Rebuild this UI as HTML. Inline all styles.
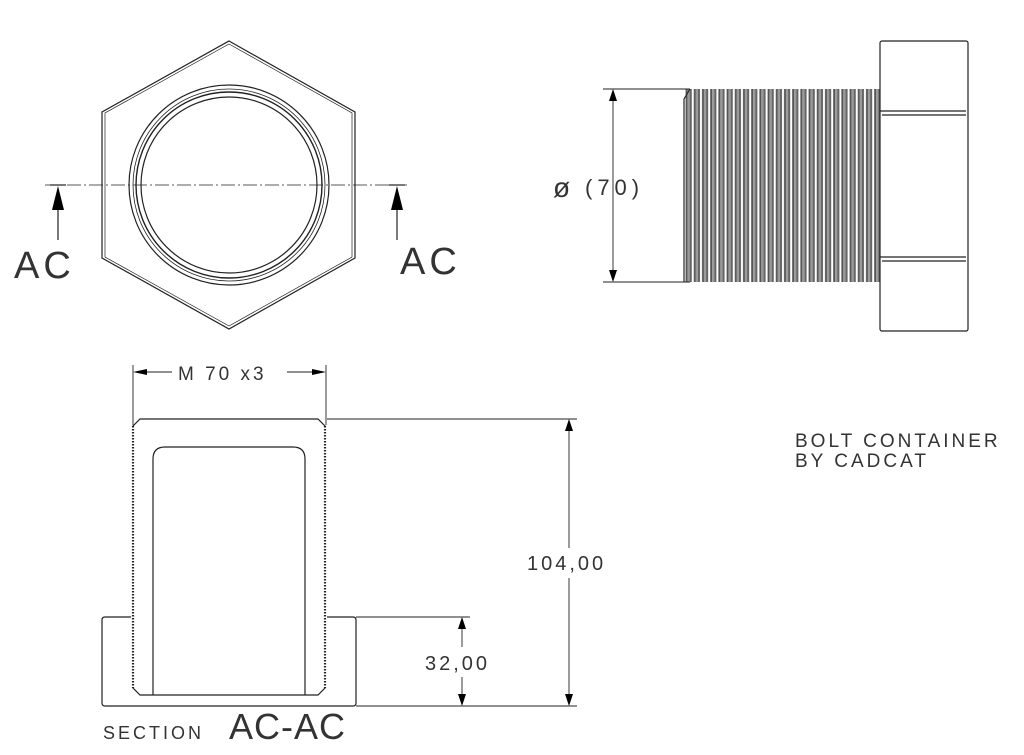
<!DOCTYPE html>
<html><head><meta charset="utf-8"><style>
html,body{margin:0;padding:0;background:#fff}
svg{display:block}
text{font-family:"Liberation Sans",sans-serif;fill:#333}
</style></head><body>
<svg width="1024" height="755" viewBox="0 0 1024 755" xmlns="http://www.w3.org/2000/svg">
<defs>
<pattern id="thr" x="685" y="0" width="8.2" height="10" patternUnits="userSpaceOnUse">
<rect width="8.2" height="10" fill="#fff"/>
<rect x="0.6" width="2" height="10" fill="#555"/>
<rect x="2.6" width="2" height="10" fill="#999"/>
<rect x="4.6" width="2.2" height="10" fill="#666"/>
</pattern>
</defs>
<g fill="none" stroke="#222" stroke-width="1.2">
<polygon points="229,41 355,112 355,258 229,329 102,258 102,112"/>
<polygon points="229,44 352,113 352,257 229,326 105,257 105,113" stroke-width="0.7"/>
<circle cx="229" cy="185" r="100"/>
<circle cx="229" cy="185" r="96" stroke-width="0.8"/>
<circle cx="229" cy="185" r="93" stroke-width="1.4"/>
<circle cx="229" cy="185" r="88"/>
<line x1="45" y1="185" x2="407" y2="185" stroke-dasharray="14,3,2,3" stroke-width="0.8"/>
<line x1="58" y1="205" x2="58" y2="240"/>
<line x1="397" y1="205" x2="397" y2="240"/>
<line x1="50" y1="185" x2="66" y2="185"/>
<line x1="389" y1="185" x2="405" y2="185"/>
</g>
<polygon points="58,186 52,210 64,210" fill="#000"/>
<polygon points="397,186 391,210 403,210" fill="#000"/>
<text x="14" y="278" font-size="38" fill="#555" letter-spacing="4">AC</text>
<text x="400" y="274" font-size="38" fill="#555" letter-spacing="4">AC</text>

<rect x="684" y="89" width="196" height="193" fill="url(#thr)"/>
<g fill="none" stroke="#222" stroke-width="1.2">
<path d="M690,89 L684,99 L684,282"/>
<rect x="880" y="41" width="88" height="290" rx="2"/>
<line x1="880" y1="111" x2="966" y2="111"/>
<line x1="882" y1="115" x2="966" y2="115"/>
<line x1="880" y1="257" x2="966" y2="257"/>
<line x1="882" y1="261" x2="966" y2="261"/>
<line x1="603" y1="89" x2="690" y2="89" stroke-width="0.9"/>
<line x1="603" y1="282" x2="690" y2="282" stroke-width="0.9"/>
<line x1="613" y1="92" x2="613" y2="279" stroke-width="0.9"/>
</g>
<polygon points="613,89 609,101 617,101" fill="#000"/>
<polygon points="613,282 609,270 617,270" fill="#000"/>
<text x="553" y="197" font-size="28" fill="#555">ø</text>
<text x="585" y="195" font-size="22" fill="#555" letter-spacing="5">(70)</text>

<g fill="none" stroke="#222" stroke-width="1.2">
<path d="M140,419 L318,419 L325,426 L325,688 L318,695 L140,695 L133,688 L133,426 Z"/>
<line x1="133" y1="426" x2="133" y2="688" stroke="#fff" stroke-width="2"/>
<line x1="325" y1="426" x2="325" y2="688" stroke="#fff" stroke-width="2"/>
<line x1="133" y1="426" x2="133" y2="688" stroke-dasharray="1.5,1.5" stroke-width="2.2"/>
<line x1="325" y1="426" x2="325" y2="688" stroke-dasharray="1.5,1.5" stroke-width="2.2"/>
<path d="M153,695 L153,459 Q153,447 165,447 L293,447 Q305,447 305,459 L305,695"/>
<path d="M131,617 L105,617 Q102,617 102,620 L102,703 Q102,706 105,706 L353,706 Q356,706 356,703 L356,620 Q356,617 353,617 L327,617"/>
<line x1="133" y1="365" x2="133" y2="425" stroke-width="0.9"/>
<line x1="326" y1="365" x2="326" y2="425" stroke-width="0.9"/>
<line x1="145" y1="372" x2="172" y2="372" stroke-width="0.9"/>
<line x1="287" y1="372" x2="314" y2="372" stroke-width="0.9"/>
<line x1="327" y1="419" x2="577" y2="419" stroke-width="0.9"/>
<line x1="356" y1="706" x2="577" y2="706" stroke-width="0.9"/>
<line x1="356" y1="617" x2="470" y2="617" stroke-width="0.9"/>
<line x1="569" y1="430" x2="569" y2="548" stroke-width="0.9"/>
<line x1="569" y1="578" x2="569" y2="695" stroke-width="0.9"/>
<line x1="462" y1="628" x2="462" y2="647" stroke-width="0.9"/>
<line x1="462" y1="677" x2="462" y2="695" stroke-width="0.9"/>
</g>
<polygon points="133,372 147,369 147,375" fill="#000"/>
<polygon points="326,372 312,369 312,375" fill="#000"/>
<polygon points="569,419 565,431 573,431" fill="#000"/>
<polygon points="569,706 565,694 573,694" fill="#000"/>
<polygon points="462,617 458,629 466,629" fill="#000"/>
<polygon points="462,706 458,694 466,694" fill="#000"/>
<text x="178" y="380" font-size="19" fill="#444" letter-spacing="3">M 70  x3</text>
<text x="527" y="570" font-size="20" fill="#555" letter-spacing="3">104,00</text>
<text x="425" y="670" font-size="20" fill="#555" letter-spacing="3">32,00</text>
<text x="103" y="739" font-size="18" fill="#444" letter-spacing="3">SECTION</text>
<text x="229" y="739" font-size="36" fill="#222" letter-spacing="1">AC-AC</text>
<text x="795" y="447" font-size="19" fill="#444" letter-spacing="3">BOLT CONTAINER</text>
<text x="795" y="467" font-size="19" fill="#444" letter-spacing="3">BY CADCAT</text>
</svg>
</body></html>
